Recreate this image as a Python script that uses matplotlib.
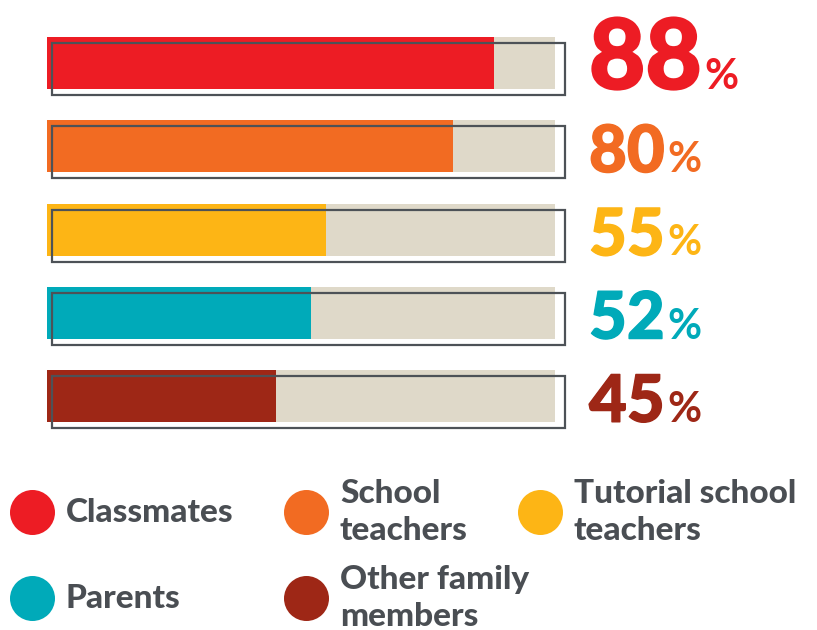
import matplotlib.pyplot as plt
import matplotlib.patheffects as pe

# === data ===
categories = ["Classmates", "School teachers", "Tutorial school teachers", "Parents", "Other family members"]
legend_labels = ["Classmates", "School\nteachers", "Tutorial school\nteachers", "Parents", "Other family\nmembers"]
values = [88, 80, 55, 52, 45]
colors = ["#ED1C24", "#F26B22", "#FDB515", "#00AAB9", "#9E2716"]

track = "#DFD9C9"
edge = "#4D5257"
text_grey = "#4A4E53"

W, H = 817, 630
fig = plt.figure(figsize=(W / 100, H / 100), dpi=100)
ax = fig.add_axes([0, 0, 1, 1])

# pixel layout: 0% at x=47px, 100% at x=555px; rows 83.25px apart, first centred at y=63px
x0, xscale = 47, 5.08
y0, yscale = 63, 83.25
ax.set_xlim(-x0 / xscale, (W - x0) / xscale)
ax.set_ylim((H - y0) / yscale, -y0 / yscale)
ax.axis("off")


def px2x(px):
    return (px - x0) / xscale


def px2y(py):
    return (py - y0) / yscale


rows = list(range(len(values)))
h = 52 / yscale

# grey track, coloured fill, offset outline
ax.barh(rows, [100] * len(rows), height=h, color=track, zorder=1)
ax.barh(rows, values, height=h, color=colors, zorder=2)
ax.barh([r + 6 / yscale for r in rows], [101] * len(rows), left=1, height=h,
        fill=False, edgecolor=edge, linewidth=1.6, zorder=3)

# value labels
fig.canvas.draw()
renderer = fig.canvas.get_renderer()
for i, (v, c) in enumerate(zip(values, colors)):
    size = 70 if i == 0 else 47
    sw = 1.5 if i == 0 else 1.0
    t = ax.text(px2x(589), i + 0.31, str(v), fontsize=size, color=c,
                family="Lato", fontweight="black", va="baseline", ha="left",
                path_effects=[pe.withStroke(linewidth=sw, foreground=c)])
    bb = t.get_window_extent(renderer=renderer)
    xr = ax.transData.inverted().transform((bb.x1, 0))[0]
    ax.text(xr + 3 / xscale, i + 0.31, "%", fontsize=30, color=c,
            family="Lato", fontweight="bold", va="baseline", ha="left")

# legend
leg_pos = [(32, 512), (306, 512), (540, 512), (32, 598), (306, 598)]
for lab, c, (lx, ly) in zip(legend_labels, colors, leg_pos):
    ax.scatter([px2x(lx)], [px2y(ly)], s=1050, color=c, linewidths=0, clip_on=False)
    ax.text(px2x(lx + 34), px2y(ly), lab, fontsize=24, color=text_grey,
            family="Lato", fontweight="black", va="center", ha="left", linespacing=1.35)

fig.savefig("out.png", dpi=100)
